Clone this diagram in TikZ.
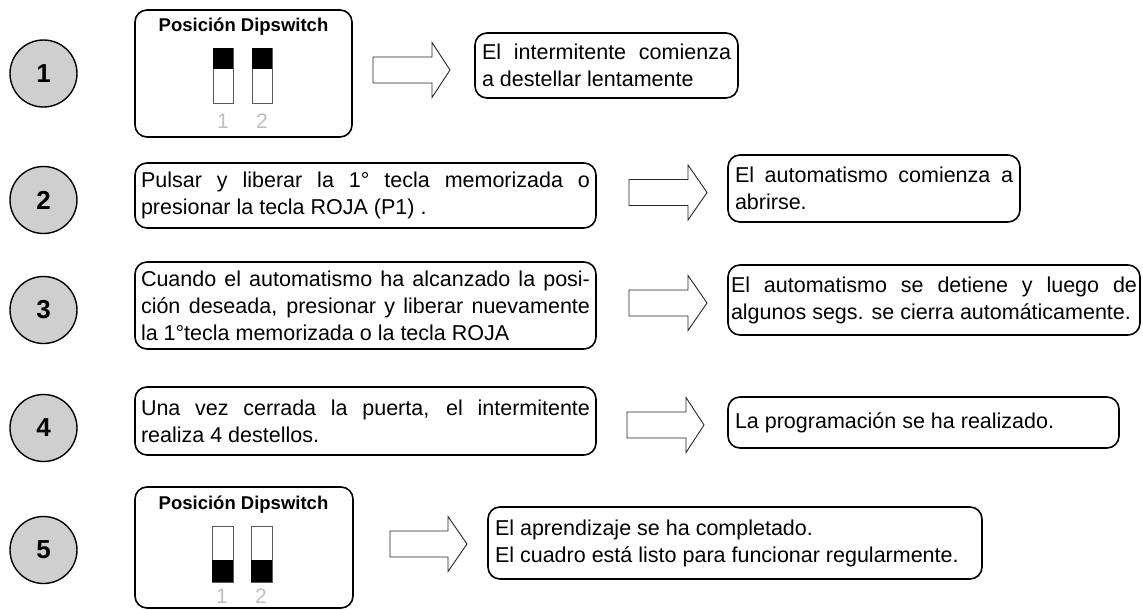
\documentclass[tikz,border=0pt]{standalone}
\usepackage{fontspec}
\setmainfont{Liberation Sans}
\newcommand{\blockarrow}[4]{%
  \draw[blk] (#1,#4-13) -- (#2,#4-13) -- (#2,#4-27.5) -- (#3,#4) -- (#2,#4+27.5) -- (#2,#4+13) -- (#1,#4+13) -- cycle;}
\begin{document}
\begin{tikzpicture}[x=1pt,y=-1pt,
  box/.style={draw=black, line width=1.6pt, rounded corners=12pt, inner sep=0pt,
    font=\fontsize{21.5}{27}\selectfont, align=left},
  num/.style={circle, draw=black, line width=1.4pt, fill=gray!38, minimum size=67pt,
    inner sep=0pt, font=\fontsize{26}{26}\selectfont\bfseries},
  dip/.style={draw=gray!70!black, line width=0.9pt, fill=white},
  blk/.style={draw=black!85, line width=0.9pt, fill=white},
  title/.style={font=\fontsize{18.5}{20}\selectfont\bfseries, inner sep=0pt},
  dipnum/.style={font=\fontsize{21}{21}\selectfont, text=gray!50, inner sep=0pt}
]
\useasboundingbox (0,0) rectangle (1143,610);

% numbered circles
\node[num] (c1) at (43.5,73.5) {1};
\node[num] (c2) at (43.5,200) {2};
\node[num] (c3) at (43.5,310) {3};
\node[num] (c4) at (43.5,428) {4};
\node[num] (c5) at (43.5,550) {5};

% row 1
\node[box, minimum width=217pt, minimum height=127pt] (b1) at (243.5,73.5) {};
\node[title] (t1) at (243.5,27) {Posición Dipswitch};
\draw[dip] (213,48) rectangle (233,103);
\fill[black] (213,48) rectangle (233,69);
\draw[dip] (252,48) rectangle (272,103);
\fill[black] (252,48) rectangle (272,69);
\node[dipnum] (n11) at (223,121) {1};
\node[dipnum] (n12) at (262,121) {2};
\blockarrow{373}{432}{450}{70}
\node[box, minimum width=263pt, minimum height=65pt] (r1) at (606.5,65.5)
  {\makebox[249pt][s]{El intermitente comienza}\\\makebox[249pt][l]{a destellar lentamente}};

% row 2
\node[box, minimum width=461pt, minimum height=65pt] (b2) at (365.5,195.5)
  {\makebox[449pt][s]{Pulsar y liberar la 1° tecla memorizada o}\\\makebox[449pt][l]{presionar la tecla ROJA (P1) .}};
\blockarrow{629}{688}{707}{192.5}
\node[box, minimum width=292pt, minimum height=67pt] (r2) at (874,188.5)
  {\makebox[278pt][s]{El automatismo comienza a}\\\makebox[278pt][l]{abrirse.}};

% row 3
\node[box, minimum width=461pt, minimum height=87pt] (b3) at (365.5,305.5)
  {\makebox[449pt][s]{Cuando el automatismo ha alcanzado la posi-}\\\makebox[449pt][s]{ción deseada, presionar y liberar nuevamente}\\\makebox[449pt][l]{la 1°tecla memorizada o la tecla ROJA}};
\blockarrow{629}{688}{707}{303}
\node[box, minimum width=412pt, minimum height=70pt] (r3) at (934,300)
  {\makebox[406pt][s]{El automatismo se detiene y luego de}\\\makebox[406pt][l]{algunos segs. se cierra automáticamente.}};

% row 4
\node[box, minimum width=461pt, minimum height=68pt] (b4) at (365.5,421)
  {\makebox[449pt][s]{Una vez cerrada la puerta, el intermitente}\\\makebox[449pt][l]{realiza 4 destellos.}};
\blockarrow{627}{686}{704}{425}
\node[box, minimum width=391pt, minimum height=51pt] (r4) at (923.5,422.5)
  {\makebox[377pt][l]{La programación se ha realizado.}};

% row 5
\node[box, minimum width=218pt, minimum height=121pt] (b5) at (244,547.5) {};
\node[title] (t5) at (243.5,505) {Posición Dipswitch};
\draw[dip] (212,526) rectangle (233,582);
\fill[black] (212,560) rectangle (233,582);
\draw[dip] (251,526) rectangle (272,582);
\fill[black] (251,560) rectangle (272,582);
\node[dipnum] (n51) at (222,596) {1};
\node[dipnum] (n52) at (261,596) {2};
\blockarrow{390}{448}{467}{544}
\node[box, minimum width=494pt, minimum height=72pt] (r5) at (735,543)
  {\makebox[480pt][l]{El aprendizaje se ha completado.}\\\makebox[480pt][l]{El cuadro está listo para funcionar regularmente.}};
\end{tikzpicture}
\end{document}
